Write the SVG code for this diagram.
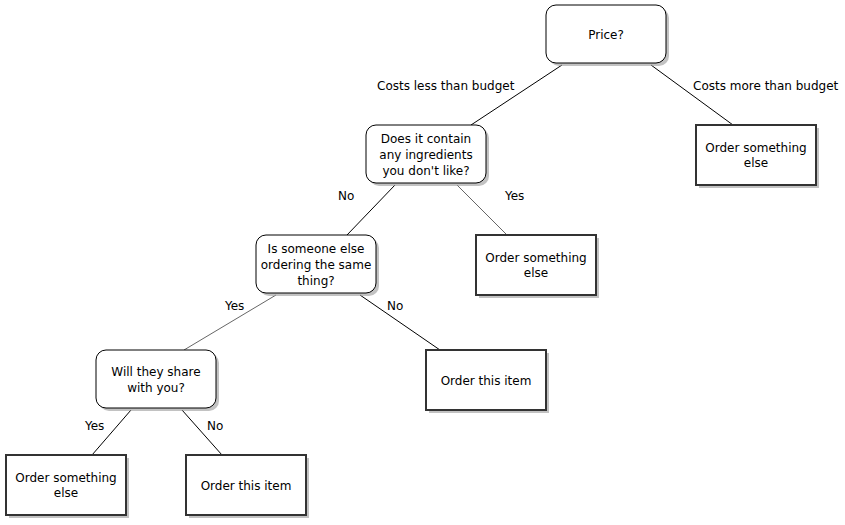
<svg xmlns="http://www.w3.org/2000/svg" width="845" height="525" viewBox="0 0 845 525">
<defs>
<style>
text{font-family:"DejaVu Sans",Verdana,sans-serif;font-size:12px;fill:#000;}
.c{text-anchor:middle;}
.dec{fill:#fff;stroke:#000;stroke-width:1;}
.out{fill:#fff;stroke:#333;stroke-width:2;}
.sh{fill:#999;opacity:0.6;}
.e{stroke:#000;stroke-width:1;fill:none;}
.g{stroke:#666;stroke-width:1;fill:none;}
</style>
</defs>
<rect width="845" height="525" fill="#fff"/>
<g id="connectors">
<line class="e" x1="562" y1="65" x2="471" y2="125"/>
<line class="e" x1="651" y1="65" x2="733" y2="125"/>
<line class="e" x1="395" y1="185" x2="347" y2="235"/>
<line class="g" x1="457" y1="185" x2="507" y2="235"/>
<line class="g" x1="276" y1="295" x2="184" y2="350"/>
<line class="e" x1="360" y1="295" x2="440" y2="350"/>
<line class="e" x1="131" y1="410" x2="92" y2="455"/>
<line class="e" x1="182" y1="410" x2="222" y2="455"/>
<text x="377" y="90">Costs less than budget</text>
<text x="693" y="90">Costs more than budget</text>
<text x="338" y="200">No</text>
<text x="505" y="200">Yes</text>
<text x="225" y="310">Yes</text>
<text x="387" y="310">No</text>
<text x="85" y="430">Yes</text>
<text x="207" y="430">No</text>
</g>
<g id="price">
<rect class="sh" x="549" y="8" width="120" height="58" rx="10"/>
<rect class="dec" x="546" y="5" width="120" height="58" rx="10"/>
<text class="c" x="606" y="39">Price?</text>
</g>
<g id="ingredients">
<rect class="sh" x="369" y="128" width="120" height="58" rx="10"/>
<rect class="dec" x="366" y="125" width="120" height="58" rx="10"/>
<text class="c" x="426" y="143">Does it contain</text>
<text class="c" x="426" y="159">any ingredients</text>
<text class="c" x="426" y="175">you don't like?</text>
</g>
<g id="someone">
<rect class="sh" x="259" y="238" width="120" height="58" rx="10"/>
<rect class="dec" x="256" y="235" width="120" height="58" rx="10"/>
<text class="c" x="316" y="253">Is someone else</text>
<text class="c" x="316" y="269">ordering the same</text>
<text class="c" x="316" y="285">thing?</text>
</g>
<g id="share">
<rect class="sh" x="99" y="353" width="120" height="58" rx="10"/>
<rect class="dec" x="96" y="350" width="120" height="58" rx="10"/>
<text class="c" x="156" y="376">Will they share</text>
<text class="c" x="156" y="392">with you?</text>
</g>
<g id="out1">
<rect class="sh" x="699" y="128" width="120" height="60"/>
<rect class="out" x="696" y="125" width="120" height="60"/>
<text class="c" x="756" y="152">Order something</text>
<text class="c" x="756" y="167">else</text>
</g>
<g id="out2">
<rect class="sh" x="479" y="238" width="120" height="60"/>
<rect class="out" x="476" y="235" width="120" height="60"/>
<text class="c" x="536" y="262">Order something</text>
<text class="c" x="536" y="277">else</text>
</g>
<g id="out3">
<rect class="sh" x="429" y="353" width="120" height="60"/>
<rect class="out" x="426" y="350" width="120" height="60"/>
<text class="c" x="486" y="385">Order this item</text>
</g>
<g id="out4">
<rect class="sh" x="9" y="458" width="120" height="60"/>
<rect class="out" x="6" y="455" width="120" height="60"/>
<text class="c" x="66" y="482">Order something</text>
<text class="c" x="66" y="497">else</text>
</g>
<g id="out5">
<rect class="sh" x="189" y="458" width="120" height="60"/>
<rect class="out" x="186" y="455" width="120" height="60"/>
<text class="c" x="246" y="490">Order this item</text>
</g>
</svg>
